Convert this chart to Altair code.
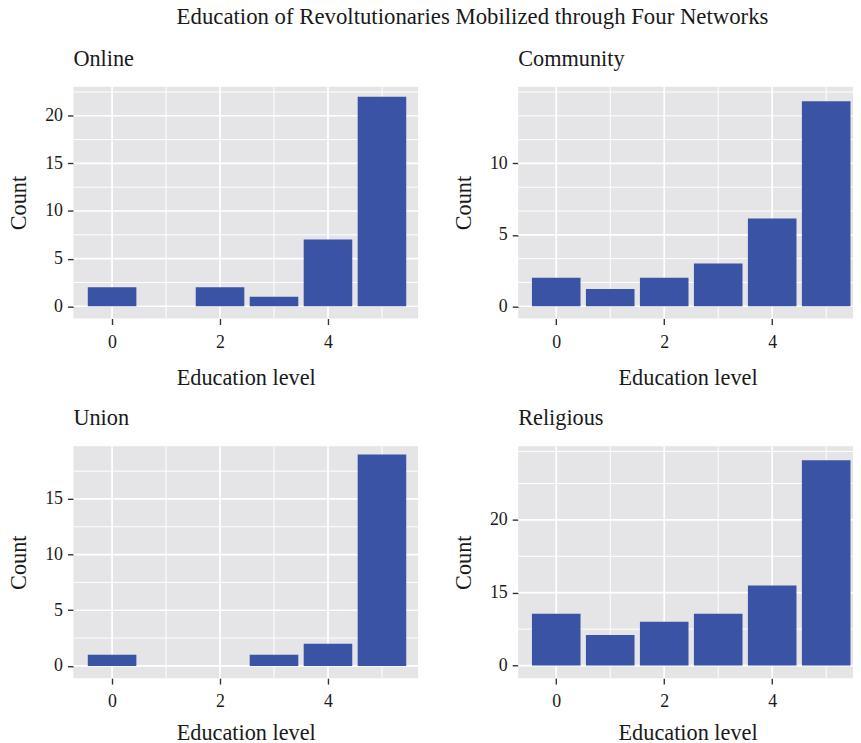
import altair as alt
import pandas as pd

# ---- data ----
levels = [0, 1, 2, 3, 4, 5]
online_counts = [2, 0, 2, 1, 7, 22]
community_counts = [2.0, 1.2, 2.0, 3.0, 6.15, 14.35]
union_counts = [1, 0, 0, 1, 2, 19]
religious_counts = [7.1, 4.2, 6.0, 7.1, 11.0, 28.2]

panel_names = ["Online", "Community", "Union", "Religious"]
main_title = "Education of Revoltutionaries Mobilized through Four Networks"
x_title = "Education level"
y_title = "Count"

x_tick_values = [0, 2, 4]
x_grid_values = [0, 1, 2, 3, 4, 5]

online_ticks = [0, 5, 10, 15, 20]
online_labels = ["0", "5", "10", "15", "20"]
online_grid = [0, 2.5, 5, 7.5, 10, 12.5, 15, 17.5, 20, 22.5]

community_ticks = [0, 5, 10]
community_labels = ["0", "5", "10"]
community_grid = [0, 5 / 3, 10 / 3, 5, 20 / 3, 25 / 3, 10, 35 / 3, 40 / 3, 15]

union_ticks = [0, 5, 10, 15]
union_labels = ["0", "5", "10", "15"]
union_grid = [0, 2.5, 5, 7.5, 10, 12.5, 15, 17.5]

religious_ticks = [0, 10, 20]
religious_labels = ["0", "15", "20"]
religious_grid = [0, 5, 10, 15, 20, 25, 29.4]

online_ydom = [-1.29, 23.05]
community_ydom = [-0.86, 15.37]
union_ydom = [-1.1, 19.73]
religious_ydom = [-1.73, 30.1]
left_xdom = [-0.717, 5.67]
right_xdom = [-0.705, 5.57]

BAR = "#3A53A4"
FONT = "Liberation Serif"
TXT = "#1a1a1a"


def label_expr(ticks, labels):
    expr = "''"
    for t, l in reversed(list(zip(ticks, labels))):
        expr = f"abs(datum.value - {t}) < 1e-6 ? '{l}' : ({expr})"
    return expr


def x_axis(title_pad):
    return alt.Axis(values=x_tick_values, grid=False, domain=False,
                    tickSize=6, tickColor="#333333", tickWidth=1.4,
                    labelPadding=9, labelFontSize=18, labelColor=TXT, labelFont=FONT,
                    titleFontSize=22.5, titlePadding=title_pad, titleFont=FONT,
                    titleFontWeight="normal", titleColor=TXT)


def y_axis(ticks, labels):
    return alt.Axis(values=ticks, labelExpr=label_expr(ticks, labels),
                    grid=False, domain=False,
                    tickSize=6, tickColor="#333333", tickWidth=1.4,
                    labelPadding=5, labelFontSize=18, labelColor=TXT, labelFont=FONT,
                    titleFontSize=22.5, titlePadding=14, titleFont=FONT,
                    titleFontWeight="normal", titleColor=TXT)


def panel(name, counts, ticks, labels, grid, ydom, xdom, width, x_title_pad):
    bars = pd.DataFrame({"level": levels, "count": counts})
    hgrid = pd.DataFrame({"y": grid, "w": [1.7 if g in ticks else 1.0 for g in grid]})
    vgrid = pd.DataFrame({"x": x_grid_values,
                          "w": [1.7 if g in x_tick_values else 1.0 for g in x_grid_values]})
    xscale = alt.Scale(domain=xdom, nice=False, zero=False)
    yscale = alt.Scale(domain=ydom, nice=False, zero=False)

    h = alt.Chart(hgrid).mark_rule(color="white").encode(
        y=alt.Y("y:Q", scale=yscale, title=y_title, axis=y_axis(ticks, labels)),
        strokeWidth=alt.StrokeWidth("w:Q", scale=None),
    )
    v = alt.Chart(vgrid).mark_rule(color="white").encode(
        x=alt.X("x:Q", scale=xscale, title=x_title, axis=x_axis(x_title_pad)),
        strokeWidth=alt.StrokeWidth("w:Q", scale=None),
    )
    b = alt.Chart(bars).transform_calculate(
        x0="datum.level - 0.45", x1="datum.level + 0.45"
    ).mark_bar(color=BAR).encode(
        x=alt.X("x0:Q", scale=xscale, title=x_title, axis=x_axis(x_title_pad)),
        x2="x1:Q",
        y=alt.Y("count:Q", scale=yscale, title=y_title, axis=y_axis(ticks, labels)),
        y2=alt.datum(0),
    )
    return alt.layer(h, v, b).properties(
        width=width, height=234,
        title=alt.TitleParams(name, anchor="start", frame="group", fontSize=22.5,
                              fontWeight="normal", color=TXT, font=FONT, offset=16),
    )


p1 = panel(panel_names[0], online_counts, online_ticks, online_labels, online_grid,
           online_ydom, left_xdom, 348, 16)
p2 = panel(panel_names[1], community_counts, community_ticks, community_labels,
           community_grid, community_ydom, right_xdom, 342, 16)
p3 = panel(panel_names[2], union_counts, union_ticks, union_labels, union_grid,
           union_ydom, left_xdom, 348, 11)
p4 = panel(panel_names[3], religious_counts, religious_ticks, religious_labels,
           religious_grid, religious_ydom, right_xdom, 342, 11)

chart = alt.concat(p1, p2, p3, p4, columns=2).properties(
    bounds="flush",
    spacing={"row": 129, "column": 101},
    autosize=alt.AutoSizeParams(type="none"),
    padding={"left": 66, "top": 76, "right": 787, "bottom": 659},
    title=alt.TitleParams(main_title, fontSize=23, fontWeight="normal", color=TXT,
                          font=FONT, anchor="middle", dx=40, offset=19),
).configure(font=FONT).configure_view(fill="#E5E5E7", strokeWidth=0)

chart.save("out.html", embed_options={"renderer": "svg", "actions": False})
